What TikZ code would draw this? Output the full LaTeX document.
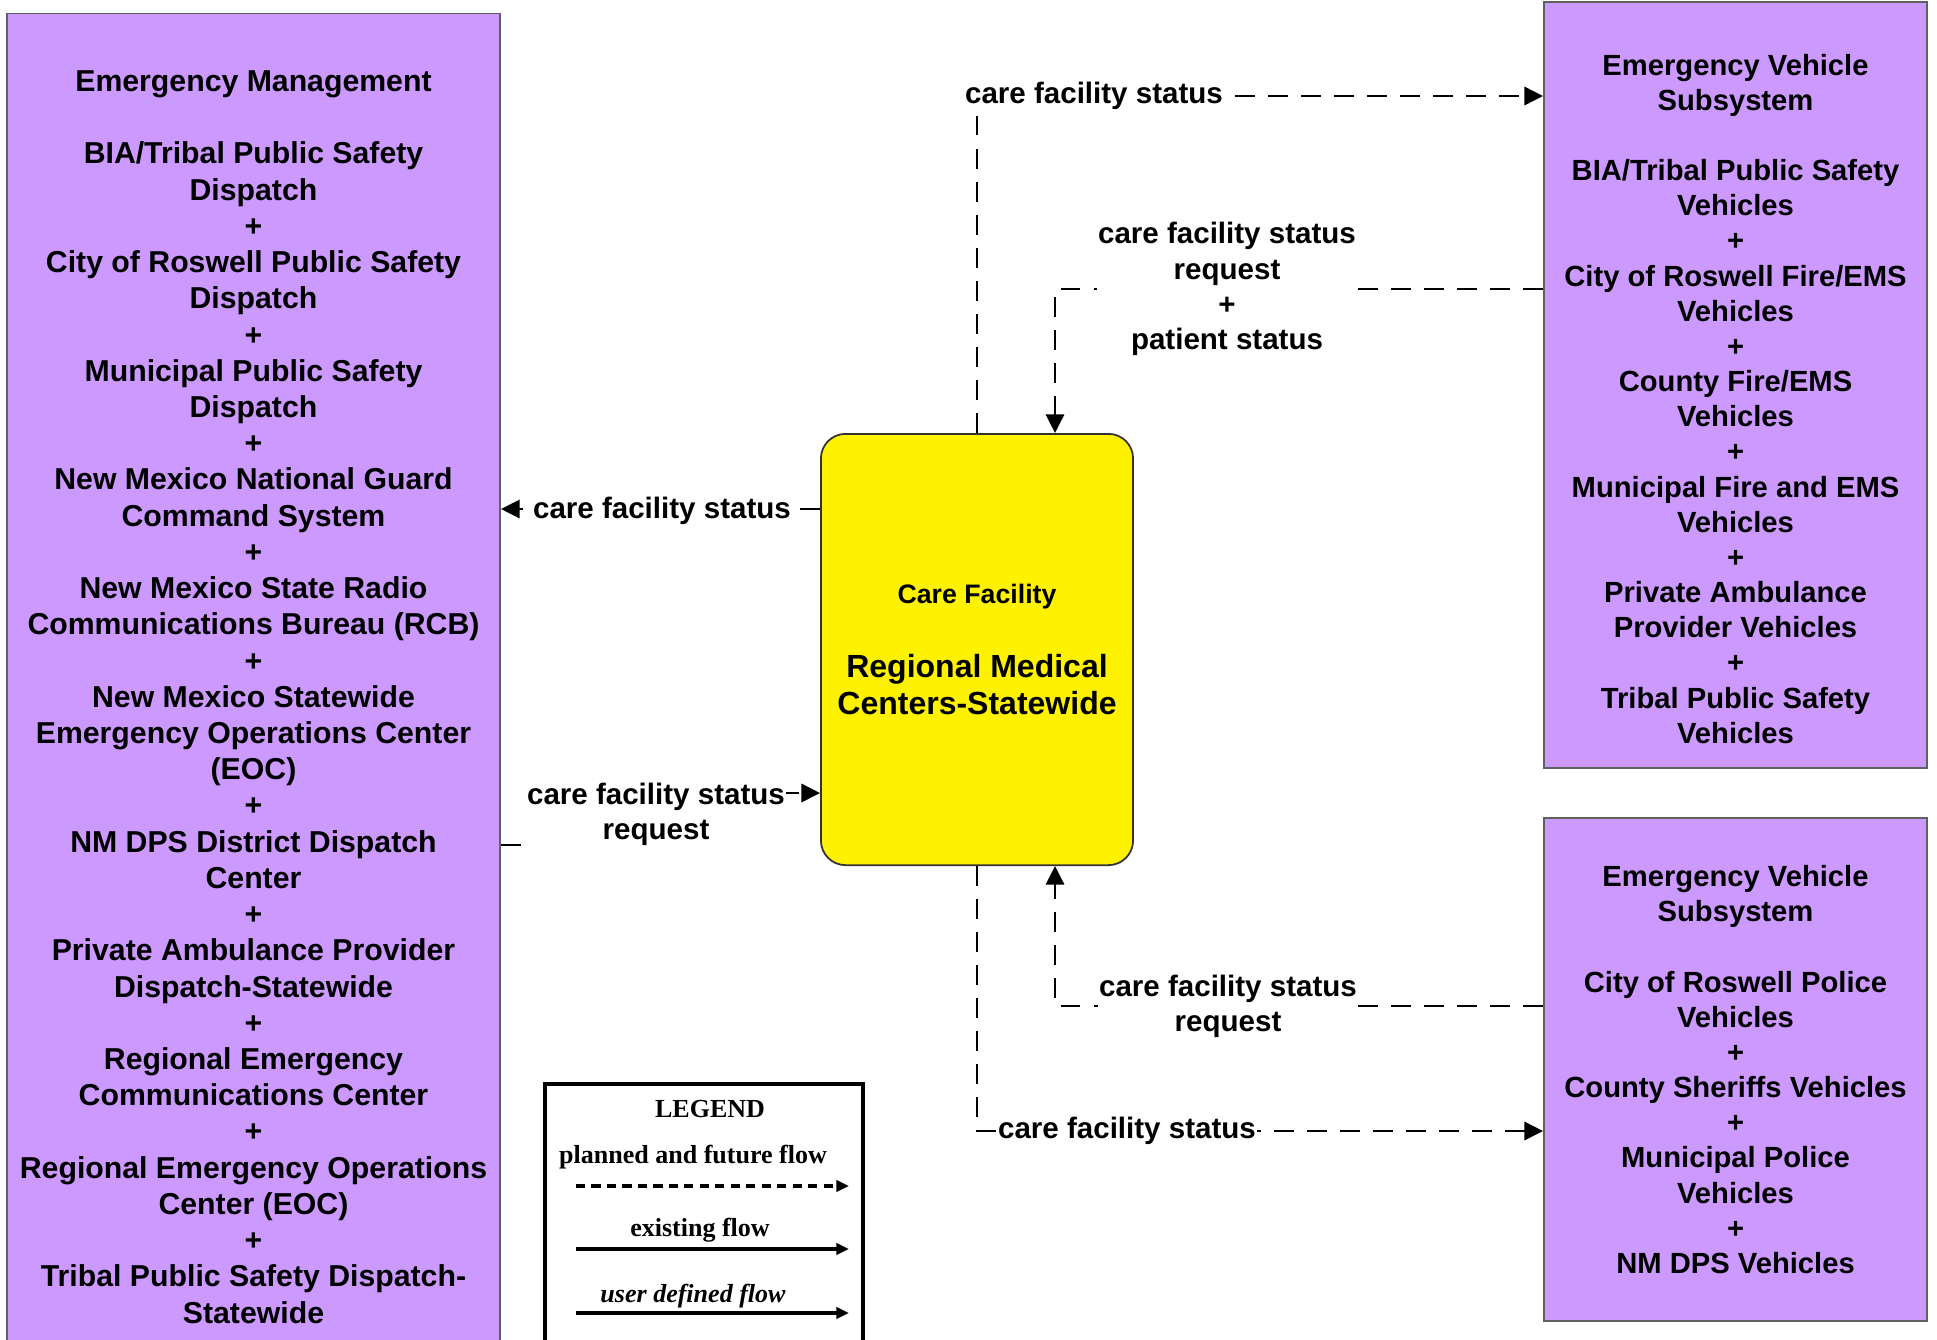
\documentclass[tikz,border=0pt]{standalone}
\usepackage{fontspec}
\setmainfont{Liberation Sans}
\newfontfamily\legendfont{Liberation Serif}
\usetikzlibrary{arrows.meta}
\definecolor{lilac}{RGB}{204,153,255}
\begin{document}
\begin{tikzpicture}[x=0.01cm,y=0.01cm,line join=miter,>={Triangle[length=5.3pt,width=5.2pt]},
	sysbox/.style={draw=gray!75!black,fill=lilac,line width=0.5pt,align=center,inner sep=0pt,font=\bfseries\fontsize{8.6}{10.3}\selectfont},
	vehbox/.style={sysbox,minimum width=3.83cm,font=\bfseries\fontsize{8.3}{10}\selectfont},
	facbox/.style={draw=black!80,fill=yellow,rounded corners=7pt,line width=0.5pt,align=center,minimum width=3.12cm,minimum height=4.31cm,font=\bfseries\fontsize{9.1}{10.5}\selectfont},
	flow/.style={dash pattern=on 5.6pt off 3.8pt,line width=0.7pt},
	flowlabel/.style={fill=white,align=center,inner xsep=0.4pt,inner ysep=1.5pt,font=\bfseries\fontsize{8.4}{10}\selectfont},
	legendtext/.style={inner sep=0pt,font=\legendfont\bfseries\fontsize{7.4}{9}\selectfont},
	legendarrow/.style={line width=1pt,-{Triangle[length=3.6pt,width=3.2pt]}}]
	\useasboundingbox (0,0) rectangle (1937,-1339);
	\node[sysbox,minimum width=4.93cm,minimum height=13.66cm] (em) at (253.5,-697) {Emergency Management\\[10.3pt]BIA/Tribal Public Safety\\Dispatch\\+\\City of Roswell Public Safety\\Dispatch\\+\\Municipal Public Safety\\Dispatch\\+\\New Mexico National Guard\\Command System\\+\\New Mexico State Radio\\Communications Bureau (RCB)\\+\\New Mexico Statewide\\Emergency Operations Center\\(EOC)\\+\\NM DPS District Dispatch\\Center\\+\\Private Ambulance Provider\\Dispatch-Statewide\\+\\Regional Emergency\\Communications Center\\+\\Regional Emergency Operations\\Center (EOC)\\+\\Tribal Public Safety Dispatch-\\Statewide};
	\node[vehbox,minimum height=7.66cm] (ev1) at (1735.5,-385) {\rule{0pt}{13.8pt}Emergency Vehicle\\Subsystem\\[10pt]BIA/Tribal Public Safety\\Vehicles\\+\\City of Roswell Fire/EMS\\Vehicles\\+\\County Fire/EMS\\Vehicles\\+\\Municipal Fire and EMS\\Vehicles\\+\\Private Ambulance\\Provider Vehicles\\+\\Tribal Public Safety\\Vehicles};
	\node[vehbox,minimum height=5.03cm] (ev2) at (1735.5,-1069.5) {Emergency Vehicle\\Subsystem\\[10pt]City of Roswell Police\\Vehicles\\+\\County Sheriffs Vehicles\\+\\Municipal Police\\Vehicles\\+\\NM DPS Vehicles};
	\node[facbox] (cf) at (977,-649.5) {{\fontsize{7.6}{9}\selectfont Care Facility}\\[10.5pt]Regional Medical\\Centers-Statewide};
	\coordinate (c1) at (977,-96);
	\coordinate (c2) at (1055,-289);
	\coordinate (c3) at (700,-509);
	\coordinate (c4) at (660,-845);
	\coordinate (c5) at (660,-793);
	\coordinate (c6) at (977,-1131);
	\coordinate (c7) at (1055,-1006);
	\draw[flow,->] (cf.north) |- (ev1.west |- c1);
	\draw[flow,->] (ev1.west |- c2) -| (c2 |- cf.north);
	\draw[flow,->] (cf.west |- c3) -- (em.east |- c3);
	\draw[flow,->] (em.east |- c4) -- (c4) -- (c5) -- (cf.west |- c5);
	\draw[flow,->] (cf.south) |- (ev2.west |- c6);
	\draw[flow,->] (ev2.west |- c7) -| (c7 |- cf.south);
	\node[flowlabel] (f1) at (1094,-96) {care facility status};
	\node[flowlabel] (f2) at (1227,-289) {care facility status\\request\\+\\patient status};
	\node[flowlabel] (f3) at (662,-511) {care facility status};
	\node[flowlabel] (f4) at (656,-814) {care facility status\\request};
	\node[flowlabel] (f5) at (1127,-1131) {care facility status};
	\node[flowlabel] (f6) at (1228,-1006) {care facility status\\request};
	\node[draw,line width=1.2pt,minimum width=3.18cm,minimum height=2.96cm] (legend) at (704,-1232) {};
	\node[legendtext] (key) at (710,-1109) {LEGEND};
	\node[legendtext] (lp) at (693,-1157) {planned and future flow};
	\node[legendtext] (le) at (700,-1230) {existing flow};
	\node[legendtext] (lu) at (693,-1296) {\itshape user defined flow};
	\coordinate (p1) at (576,-1186);
	\coordinate (p2) at (849,-1186);
	\coordinate (e1) at (576,-1249);
	\coordinate (e2) at (849,-1249);
	\coordinate (u1) at (576,-1313);
	\coordinate (u2) at (849,-1313);
	\draw[legendarrow,dash pattern=on 2.6pt off 1.8pt] (p1) -- (p2);
	\draw[legendarrow] (e1) -- (e2);
	\draw[legendarrow] (u1) -- (u2);
\end{tikzpicture}
\end{document}
